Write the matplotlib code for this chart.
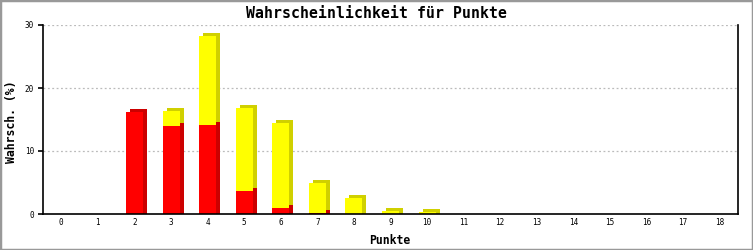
import numpy as np
import matplotlib
matplotlib.use('Agg')
import matplotlib.pyplot as plt
from matplotlib.transforms import ScaledTranslation
from matplotlib.patches import Rectangle

# data
punkte = list(range(19))
rot = [0, 0, 16.2, 14.0, 14.1, 3.6, 0.9, 0.15, 0, 0, 0, 0, 0, 0, 0, 0, 0, 0, 0]
gelb = [0, 0, 0, 2.4, 14.2, 13.3, 13.5, 4.8, 2.6, 0.5, 0.25, 0, 0, 0, 0, 0, 0, 0, 0]
y_ticks = [0, 10, 20, 30]

mono = 'DejaVu Sans Mono'
px = 72 / 100  # points per pixel
fig = plt.figure(figsize=(7.53, 2.5), dpi=100)
ax = fig.add_axes([43/753, 36/250, 695/753, 189/250])

w = 0.465
x = np.array(punkte)
rot = np.array(rot)
gelb = np.array(gelb)

# 3d side faces: darker copy shifted a few pixels right/up,
# lowest segment reaches down so the side touches the baseline
dy = 3 / 189 * 30
shift = ax.transData + ScaledTranslation(4/100, 3/100, fig.dpi_scale_trans)
m = rot > 0
ax.bar(x[m], rot[m] + dy, bottom=-dy, width=w, color='#cc0000', transform=shift, zorder=2)
m = gelb > 0
base = np.where(rot[m] > 0, rot[m], -dy)
ax.bar(x[m], rot[m] + gelb[m] - base, bottom=base, width=w, color='#d0d000',
       transform=shift, zorder=2)
# front faces
m = rot > 0
ax.bar(x[m], rot[m], width=w, color='#ff0000', zorder=3)
m = gelb > 0
ax.bar(x[m], gelb[m], bottom=rot[m], width=w, color='#ffff00', zorder=3)

ax.set_xlim(-0.5, 18.5)
ax.set_ylim(0, 30)
ax.set_xticks(punkte)
ax.set_xticklabels([str(p) for p in punkte], fontsize=5.5, family=mono)
ax.set_yticks(y_ticks)
ax.set_yticklabels([str(t) for t in y_ticks], fontsize=5.5, family=mono)
ax.tick_params(axis='x', length=0, pad=4*px)
ax.tick_params(axis='y', length=5*px, width=1.2, pad=4*px)
for t in y_ticks[1:]:
    ax.axhline(t, color='#bbbbbb', lw=0.9, ls=(0, (1.5, 2)), zorder=1)

ax.spines['top'].set_visible(False)
for s in ['left', 'bottom', 'right']:
    ax.spines[s].set_linewidth(1.2)
    ax.spines[s].set_color('black')
    ax.spines[s].set_zorder(4)

fig.text(390/753, 1 - 240/250, 'Punkte', ha='center', va='center',
         fontsize=8.3, family=mono, fontweight='bold')
fig.text(12/753, 1 - 121.5/250, 'Wahrsch. (%)', ha='center', va='center', rotation=90,
         fontsize=8.3, family=mono, fontweight='bold')
fig.text(0.5, 1 - 13/250, 'Wahrscheinlichkeit für Punkte', ha='center', va='center',
         fontsize=10.7, family=mono, fontweight='bold')

# grey frame around the picture
fig.patches.append(Rectangle((0, 0), 1, 1, transform=fig.transFigure, fill=False,
                             edgecolor='#999999', lw=2.5))

fig.savefig('out.png', dpi=100)
